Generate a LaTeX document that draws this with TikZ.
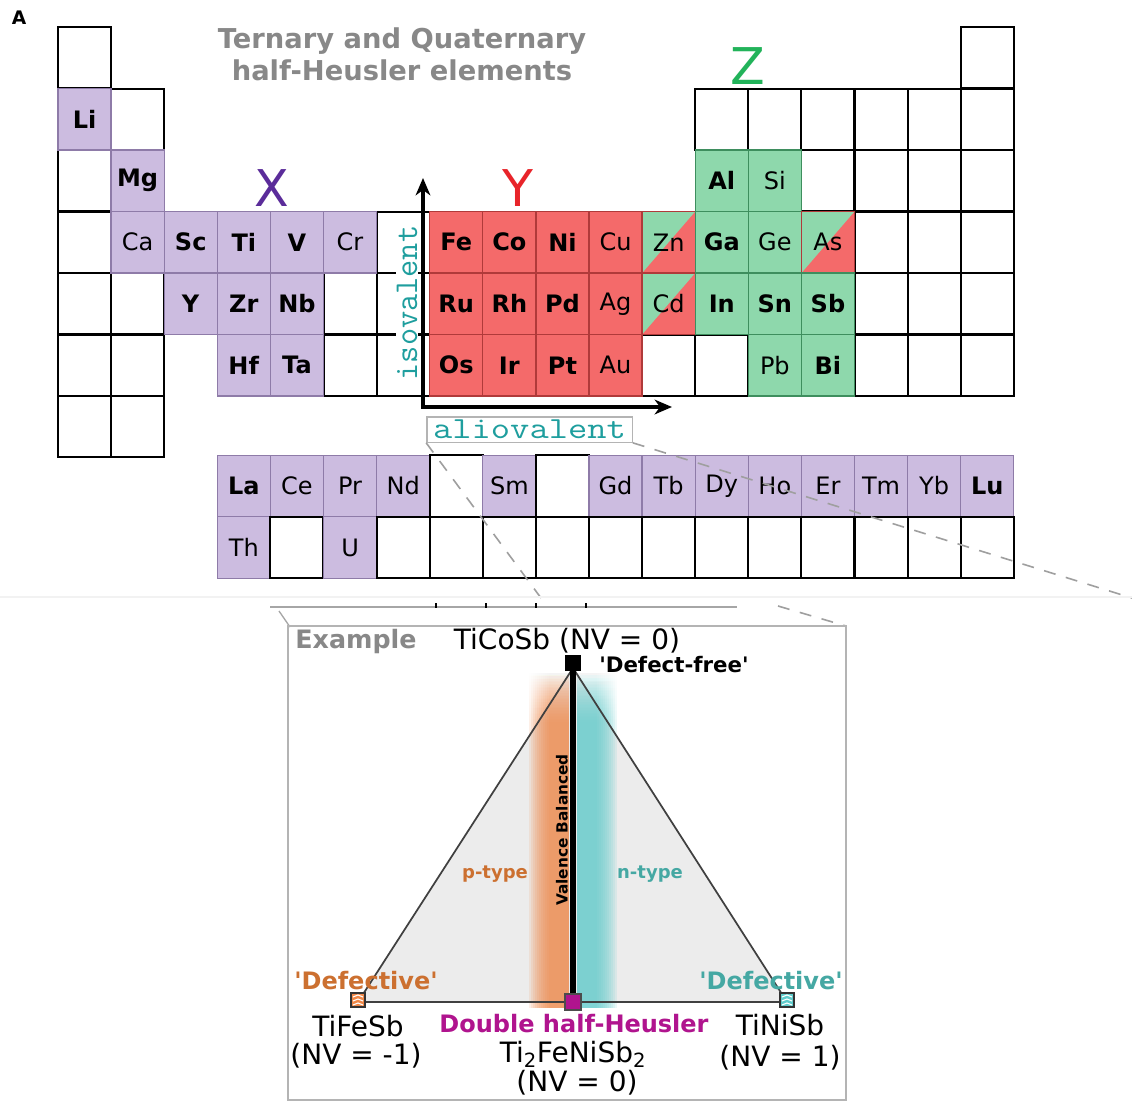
\documentclass[tikz,border=0pt]{standalone}
\usepackage{fontspec}
\usepackage{graphicx}
\setmainfont{DejaVu Sans}[Ligatures=TeXOff]
\usetikzlibrary{arrows.meta,fadings}
\definecolor{purp}{HTML}{CCBCE0}
\definecolor{purpD}{HTML}{8E7BA8}
\definecolor{redc}{HTML}{F46A6A}
\definecolor{redD}{HTML}{B03A3A}
\definecolor{grnc}{HTML}{8ED8AC}
\definecolor{grnD}{HTML}{3E8E5E}
\definecolor{tealT}{HTML}{1E9E9E}
\definecolor{xcol}{HTML}{5B2C9A}
\definecolor{ycol}{HTML}{E8242A}
\definecolor{zcol}{HTML}{22B35A}
\definecolor{titlegray}{HTML}{888888}
\definecolor{orangeT}{HTML}{CC7030}
\definecolor{tealN}{HTML}{45A8A3}
\definecolor{bandO}{HTML}{F08848}
\definecolor{bandT}{HTML}{60CCCC}
\definecolor{magC}{HTML}{B0148E}
\definecolor{trifill}{HTML}{ECECEC}
\definecolor{boxgray}{HTML}{B4B4B4}
\begin{document}
\begin{tikzpicture}[x=0.75pt,y=-0.75pt,
  cellbase/.style={rectangle, minimum width=39.8pt, minimum height=46.1pt, inner sep=0pt, font=\fontsize{18}{20}\selectfont},
  cellW/.style={cellbase, draw=black, fill=white, line width=1.5pt},
  cellP/.style={cellbase, fill=purp, draw=purpD, line width=1pt},
  cellR/.style={cellbase, fill=redc, draw=redD, line width=1pt},
  cellG/.style={cellbase, fill=grnc, draw=grnD, line width=1pt},
  cellH/.style={cellbase, fill=redc, draw=redD, line width=1pt,
    path picture={\fill[grnc] (path picture bounding box.north west) -- (path picture bounding box.north east) -- (path picture bounding box.south west) -- cycle;}},
  biglabel/.style={font=\fontsize{38}{40}\selectfont, inner sep=0pt},
  dashline/.style={draw=gray!75, line width=1.2pt, dash pattern=on 9pt off 8pt},
  paneltext/.style={font=\fontsize{21}{23}\selectfont, inner sep=0pt},
  sq/.style={rectangle, inner sep=0pt, line width=0.8pt}
]
\useasboundingbox (0,0) rectangle (1132,1103);
\fill[white] (0,0) rectangle (1132,1103);

% label A and title
\node[font=\bfseries\fontsize{14}{14}\selectfont] (lblA) at (19,18) {A};
\node[align=center, text=titlegray, font=\bfseries\fontsize{20.5}{24}\selectfont] (title) at (402,54) {Ternary and Quaternary\\half-Heusler elements};

% white cells
\foreach \c/\r in {1/1,18/1,2/2,13/2,14/2,15/2,16/2,17/2,18/2,1/3,15/3,16/3,17/3,18/3,1/4,7/4,16/4,17/4,18/4,1/5,2/5,6/5,7/5,16/5,17/5,18/5,1/6,2/6,6/6,7/6,12/6,13/6,16/6,17/6,18/6,1/7,2/7}
  \node[cellW] (w\c-\r) at ({58+53.1*(\c-0.5)},{27+61.5*(\r-0.5)}) {};

% coloured cells
\foreach \c/\r/\s/\t in {1/2/cellP/\textbf{Li}, 2/3/cellP/\textbf{Mg}, 13/3/cellG/\textbf{Al}, 14/3/cellG/Si,
  2/4/cellP/Ca, 3/4/cellP/\textbf{Sc}, 4/4/cellP/\textbf{Ti}, 5/4/cellP/\textbf{V}, 6/4/cellP/Cr,
  8/4/cellR/\textbf{Fe}, 9/4/cellR/\textbf{Co}, 10/4/cellR/\textbf{Ni}, 11/4/cellR/Cu, 12/4/cellH/Zn,
  13/4/cellG/\textbf{Ga}, 14/4/cellG/Ge, 15/4/cellH/As,
  3/5/cellP/\textbf{Y}, 4/5/cellP/\textbf{Zr}, 5/5/cellP/\textbf{Nb},
  8/5/cellR/\textbf{Ru}, 9/5/cellR/\textbf{Rh}, 10/5/cellR/\textbf{Pd}, 11/5/cellR/Ag, 12/5/cellH/Cd,
  13/5/cellG/\textbf{In}, 14/5/cellG/\textbf{Sn}, 15/5/cellG/\textbf{Sb},
  4/6/cellP/\textbf{Hf}, 5/6/cellP/\textbf{Ta},
  8/6/cellR/\textbf{Os}, 9/6/cellR/\textbf{Ir}, 10/6/cellR/\textbf{Pt}, 11/6/cellR/Au,
  14/6/cellG/Pb, 15/6/cellG/\textbf{Bi}}
  \node[\s] (e\c-\r) at ({58+53.1*(\c-0.5)},{27+61.5*(\r-0.5)}) {\t};

% lanthanides and actinides
\foreach \c/\s/\t in {4/cellP/\textbf{La}, 5/cellP/Ce, 6/cellP/Pr, 7/cellP/Nd, 8/cellW/{}, 9/cellP/Sm, 10/cellW/{}, 11/cellP/Gd, 12/cellP/Tb, 13/cellP/Dy, 14/cellP/Ho, 15/cellP/Er, 16/cellP/Tm, 17/cellP/Yb, 18/cellP/\textbf{Lu}}
  \node[\s] (ln\c) at ({58+53.1*(\c-0.5)},486) {\t};
\foreach \c/\s/\t in {4/cellP/Th, 5/cellW/{}, 6/cellP/U, 7/cellW/{}, 8/cellW/{}, 9/cellW/{}, 10/cellW/{}, 11/cellW/{}, 12/cellW/{}, 13/cellW/{}, 14/cellW/{}, 15/cellW/{}, 16/cellW/{}, 17/cellW/{}, 18/cellW/{}}
  \node[\s] (ac\c) at ({58+53.1*(\c-0.5)},547.5) {\t};

% group labels
\node[biglabel, text=xcol] (X) at (272,188) {X};
\node[biglabel, text=ycol] (Y) at (518,188) {Y};
\node[biglabel, text=zcol] (Z) at (748,66) {Z};

% isovalent / aliovalent
\node[rotate=90, fill=white, inner sep=0.5pt, text=tealT, font=\ttfamily\fontsize{25}{25}\selectfont] (iso) at (407,303) {isovalent};
\coordinate (axtop) at (423,178);
\coordinate (axorig) at (423,407);
\coordinate (axright) at (672,407);
\draw[line width=2.3pt, {Stealth[length=13pt,width=11pt,inset=4pt]}-{Stealth[length=13pt,width=11pt,inset=4pt]}] (axtop) -- (axorig) -- (axright);
\node[draw=boxgray, line width=1pt, fill=white, minimum width=154pt, minimum height=19pt, inner sep=0pt, text=tealT, font=\ttfamily\fontsize{23}{23}\selectfont] (alio) at (529.5,429.5) {\scalebox{1.22}[1]{aliovalent}};

% zoom lines
\coordinate (dl) at (541,598);
\coordinate (dr) at (1132,598);
\draw[dashline] (alio.south west) -- (dl);
\draw[dashline] (alio.south east) -- (dr);
\coordinate (fl0) at (0,597);
\coordinate (fl1) at (1132,597);
\draw[gray!10, line width=0.8pt] (fl0) -- (fl1);

% inset frame and perspective
\coordinate (hl0) at (270,607);
\coordinate (hl1) at (737,607);
\draw[gray!70, line width=1pt] (hl0) -- (hl1);
\foreach \tx in {436,486,536,586} { \coordinate (tk\tx) at (\tx,603); \draw[black, line width=1pt] (tk\tx) -- ++(0,5); }
\coordinate (pl0) at (279,611);
\coordinate (pl1) at (290,627);
\draw[gray!70, line width=1pt] (pl0) -- (pl1);
\coordinate (pr0) at (778,606);
\coordinate (pr1) at (846,626);
\draw[gray!75, line width=1.2pt, dash pattern=on 9pt off 8pt] (pr0) -- (pr1);
\node[draw=boxgray, line width=1.2pt, minimum width=418.5pt, minimum height=355.5pt, inner sep=0pt] (panel) at (567,863) {};

% triangle
\coordinate (TA) at (573,668);
\coordinate (TL) at (358,1002);
\coordinate (TR) at (787,1002);
\fill[trifill] (TA) -- (TL) -- (TR) -- cycle;

% fuzzy bands
\foreach \xa in {529,531,...,549} {
  \fill[bandO, opacity=0.13] (\xa,722) rectangle (569,1008);
  \fill[bandO, opacity=0.13, path fading=north] (\xa,672) rectangle (569,722);
}
\foreach \xb in {617,615,...,597} {
  \fill[bandT, opacity=0.13] (577,722) rectangle (\xb,1008);
  \fill[bandT, opacity=0.13, path fading=north] (577,672) rectangle (\xb,722);
}
\draw[black!75, line width=1.3pt] (TA) -- (TL) -- (TR) -- cycle;

% markers
\node[sq, fill=black, minimum size=11.5pt] (top) at (573,663) {};
\node[sq, fill=magC, draw=black!70, minimum size=12pt] (mid) at (573,1002) {};
\draw[line width=3.8pt] (top) -- (mid);
\node[sq, fill=bandO, draw=black!80, minimum size=10.5pt] (lsq) at (358,1000) {};
\node[sq, fill=bandT, draw=black!80, minimum size=10.5pt] (rsq) at (787,1000) {};
\foreach \yy in {996,1000,1004} {
  \draw[white, line width=0.8pt] (353,\yy+1) -- (358,\yy-1) -- (363,\yy+1);
  \draw[white, line width=0.8pt] (782,\yy+1) -- (787,\yy-1) -- (792,\yy+1);
}

% panel texts
\node[text=titlegray, font=\bfseries\fontsize{19}{21}\selectfont, inner sep=0pt] (ex) at (356,642) {Example};
\node[paneltext] (ticosb) at (567,641) {TiCoSb (NV = 0)};
\node[font=\bfseries\fontsize{16}{18}\selectfont, inner sep=0pt] (dfree) at (674,665) {'Defect-free'};
\node[rotate=90, font=\bfseries\fontsize{11.5}{12}\selectfont, inner sep=0pt] (vb) at (562,830) {Valence Balanced};
\node[text=orangeT, font=\bfseries\fontsize{13.5}{14}\selectfont, inner sep=0pt] (ptype) at (495,874) {p-type};
\node[text=tealN, font=\bfseries\fontsize{13.5}{14}\selectfont, inner sep=0pt] (ntype) at (650,874) {n-type};
\node[text=orangeT, font=\bfseries\fontsize{18}{20}\selectfont, inner sep=0pt] (defl) at (366,981) {'Defective'};
\node[text=tealN, font=\bfseries\fontsize{18}{20}\selectfont, inner sep=0pt] (defr) at (771,981) {'Defective'};
\node[paneltext] (tifesb) at (358,1026) {TiFeSb};
\node[paneltext] (nvm1) at (356,1056) {(NV = -1)};
\node[text=magC, font=\bfseries\fontsize{18}{20}\selectfont, inner sep=0pt] (dhh) at (574,1024) {Double half-Heusler};
\node[paneltext] (ti2) at (573,1054) {Ti\textsubscript{2}FeNiSb\textsubscript{2}};
\node[paneltext] (nv0) at (577,1083) {(NV = 0)};
\node[paneltext] (tinisb) at (780,1025) {TiNiSb};
\node[paneltext] (nv1) at (780,1058) {(NV = 1)};
\end{tikzpicture}
\end{document}
